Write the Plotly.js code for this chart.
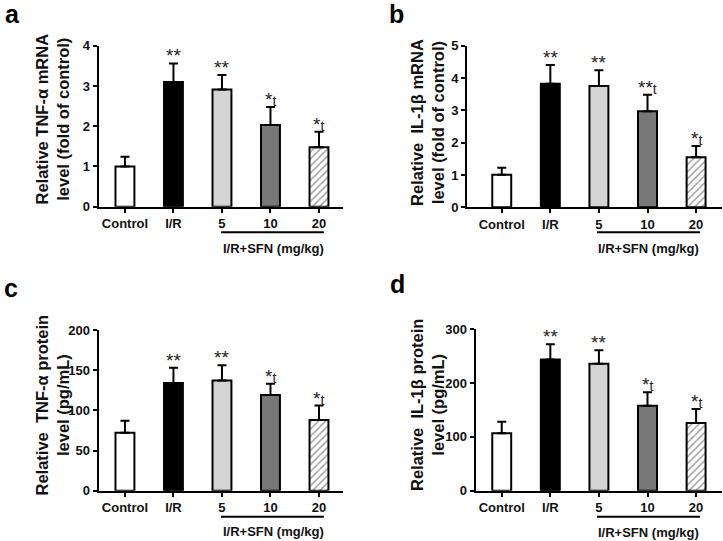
<!DOCTYPE html>
<html>
<head>
<meta charset="utf-8">
<script src="https://cdn.plot.ly/plotly-3.0.1.min.js"></script>
<style>html,body{margin:0;padding:0;background:#fff;}#chart{width:723px;height:541px;}</style>
</head>
<body>
<div id="chart"></div>
<script>
// ---- data ----
const categories = ['Control', 'I/R', '5', '10', '20'];
const barColors = ['#ffffff', '#000000', '#d4d4d4', '#787878', '#ffffff'];
const barPatterns = ['', '', '', '', '/'];

const tnfMrnaMean = [1.00, 3.10, 2.91, 2.03, 1.48];
const tnfMrnaSem  = [0.24, 0.46, 0.36, 0.45, 0.38];
const tnfMrnaSig  = ['', '**', '**', '*t', '*t'];

const il1bMrnaMean = [1.01, 3.82, 3.75, 2.97, 1.55];
const il1bMrnaSem  = [0.21, 0.58, 0.49, 0.51, 0.35];
const il1bMrnaSig  = ['', '**', '**', '**t', '*t'];

const tnfProtMean = [72, 134, 137, 119, 88];
const tnfProtSem  = [15, 19, 19, 14, 18];
const tnfProtSig  = ['', '**', '**', '*t', '*t'];

const il1bProtMean = [107, 244, 236, 158, 126];
const il1bProtSem  = [21, 28, 25, 25, 26];
const il1bProtSig  = ['', '**', '**', '*t', '*t'];

const yTitles = [
  'Relative TNF-α mRNA<br>level (fold of control)',
  'Relative  IL-1β mRNA<br>level (fold of control)',
  'Relative  TNF-α protein<br>level (pg/mL)',
  'Relative  IL-1β protein<br>level (pg/mL)'
];
const panelLetters = ['a', 'b', 'c', 'd'];
const groupLabel = 'I/R+SFN (mg/kg)';

// ---- layout geometry ----
const W = 723, H = 541;
const FONT = 'Liberation Sans, Arial, sans-serif';
const panels = [
  {mean: tnfMrnaMean, sem: tnfMrnaSem, sig: tnfMrnaSig, ymax: 4, dtick: 1,
   px: [98.5, 343], py: [45.7, 206.7], xr: [-0.545, 4.495], title: yTitles[0], tx: 51.5, ty: 119,
   letter: panelLetters[0], lx: 3, ly: 30, brY: 232.3, brX: [1.98, 4.1], lbY: 248, lbX: 3.06},
  {mean: il1bMrnaMean, sem: il1bMrnaSem, sig: il1bMrnaSig, ymax: 5, dtick: 1,
   px: [467, 721.7], py: [45.7, 207.3], xr: [-0.715, 4.527], title: yTitles[1], tx: 427, ty: 123,
   letter: panelLetters[1], lx: 387, ly: 30, brY: 232.3, brX: [1.96, 4.08], lbY: 248, lbX: 3.02},
  {mean: tnfProtMean, sem: tnfProtSem, sig: tnfProtSig, ymax: 200, dtick: 50,
   px: [98.5, 343], py: [330, 490.7], xr: [-0.545, 4.495], title: yTitles[2], tx: 51.5, ty: 405,
   letter: panelLetters[2], lx: 2, ly: 304, brY: 516.7, brX: [1.98, 4.1], lbY: 531.5, lbX: 3.06},
  {mean: il1bProtMean, sem: il1bProtSem, sig: il1bProtSig, ymax: 300, dtick: 100,
   px: [475.5, 721.7], py: [329.3, 490.7], xr: [-0.54, 4.527], title: yTitles[3], tx: 427, ty: 405,
   letter: panelLetters[3], lx: 388, ly: 300, brY: 516.7, brX: [1.96, 4.08], lbY: 532, lbX: 3.03}
];

function sigHtml(s) {
  // asterisks large, the trailing mark small
  return s.replace(/t$/, "<span style='font-size:14px;color:#222222'>t</span>");
}

const data = [];
const layout = {
  width: W, height: H,
  margin: {l: 0, r: 0, t: 0, b: 0},
  paper_bgcolor: '#fff', plot_bgcolor: 'rgba(0,0,0,0)',
  showlegend: false,
  font: {family: FONT, color: '#111'},
  annotations: [], shapes: []
};

panels.forEach((p, i) => {
  const n = i === 0 ? '' : String(i + 1);
  const xa = 'x' + n, ya = 'y' + n;
  data.push({
    type: 'bar', x: categories, y: p.mean, xaxis: xa, yaxis: ya,
    width: 0.39,
    marker: {
      color: barColors,
      line: {color: '#000', width: 2},
      pattern: {shape: barPatterns, fgcolor: '#555555', bgcolor: '#ffffff', size: 5, solidity: 0.3, fillmode: 'overlay'}
    },
    error_y: {type: 'data', symmetric: false, array: p.sem, arrayminus: p.sem.map(() => 0),
              color: '#000', thickness: 2, width: 4.5},
    hoverinfo: 'none'
  });
  layout['xaxis' + n] = {
    domain: [p.px[0] / W, p.px[1] / W], anchor: ya,
    type: 'category', range: p.xr, fixedrange: true,
    showline: true, linewidth: 2, linecolor: '#000',
    ticks: 'outside', ticklen: 4, tickwidth: 2, tickcolor: '#000',
    showgrid: false, zeroline: false,
    tickfont: {family: FONT, size: 13, weight: 'bold', color: '#111'}
  };
  layout['yaxis' + n] = {
    domain: [1 - p.py[1] / H, 1 - p.py[0] / H], anchor: xa,
    range: [0, p.ymax], dtick: p.dtick, tick0: 0, fixedrange: true,
    showline: true, linewidth: 2, linecolor: '#000',
    ticks: 'outside', ticklen: 4, tickwidth: 2, tickcolor: '#000',
    showgrid: false, zeroline: false,
    tickfont: {family: FONT, size: 13, weight: 'bold', color: '#111'}
  };
  // significance marks
  p.sig.forEach((s, k) => {
    if (!s) return;
    layout.annotations.push({
      xref: xa, yref: ya, x: k, y: p.mean[k] + p.sem[k],
      text: sigHtml(s), showarrow: false, yanchor: 'bottom', yshift: -5,
      font: {family: FONT, size: 19, color: '#222'}
    });
  });
  // y title
  layout.annotations.push({
    xref: 'paper', yref: 'paper', x: p.tx / W, y: 1 - p.ty / H,
    text: p.title, textangle: -90, showarrow: false,
    xanchor: 'center', yanchor: 'middle',
    font: {family: FONT, size: 16.5, weight: 'bold', color: '#111'}
  });
  // panel letter
  layout.annotations.push({
    xref: 'paper', yref: 'paper', x: p.lx / W, y: 1 - p.ly / H,
    text: p.letter, showarrow: false, xanchor: 'left', yanchor: 'bottom',
    font: {family: FONT, size: 25, weight: 'bold', color: '#000'}
  });
  // treatment bracket + label
  layout.shapes.push({
    type: 'line', xref: xa, yref: 'paper',
    x0: p.brX[0], x1: p.brX[1], y0: 1 - p.brY / H, y1: 1 - p.brY / H,
    line: {color: '#000', width: 2}
  });
  layout.annotations.push({
    xref: xa, yref: 'paper', x: p.lbX, y: 1 - p.lbY / H,
    text: groupLabel, showarrow: false, xanchor: 'center', yanchor: 'middle',
    font: {family: FONT, size: 13, weight: 'bold', color: '#111'}
  });
});

Plotly.newPlot('chart', data, layout, {staticPlot: true, displayModeBar: false});
</script>
</body>
</html>
